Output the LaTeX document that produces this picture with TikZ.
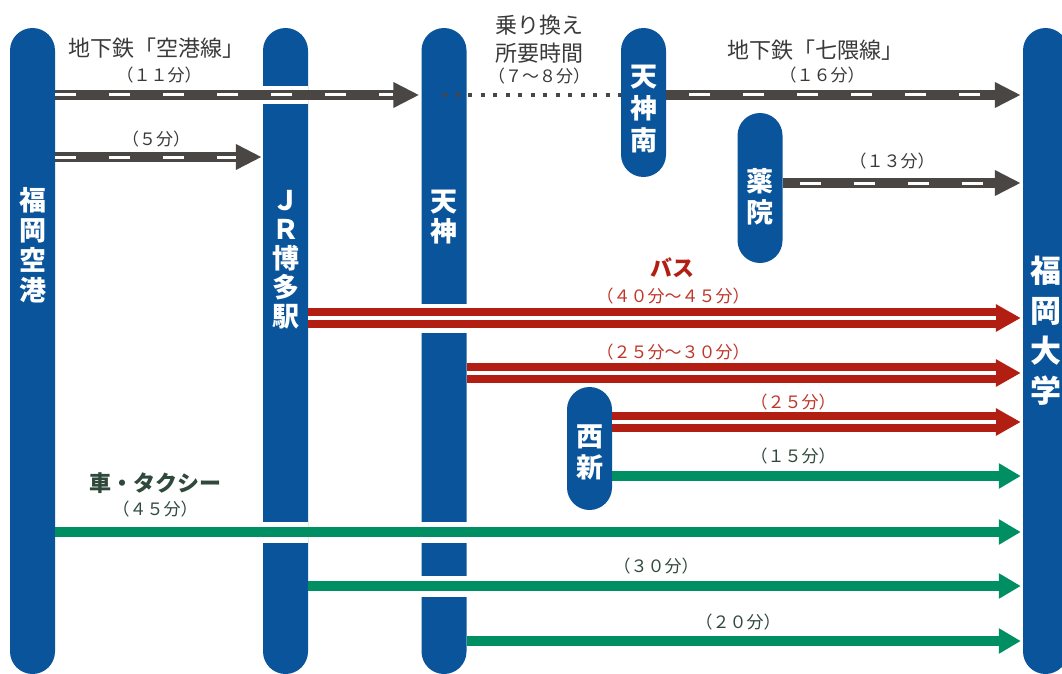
\documentclass[tikz,border=0pt]{standalone}
\usepackage{fontspec}
\setmainfont{Noto Sans CJK JP}
\usetikzlibrary{arrows.meta,calc}
\definecolor{pblue}{HTML}{0A549B}
\definecolor{agray}{HTML}{4A4643}
\definecolor{bred}{HTML}{B21E12}
\definecolor{cgreen}{HTML}{008F63}
\definecolor{capgray}{HTML}{3A3A3A}
\definecolor{capred}{HTML}{C0352A}
\definecolor{capgreen}{HTML}{2F4A3C}
\begin{document}
\begin{tikzpicture}[x=1pt,y=-1pt,
  pillar/.style={fill=pblue, rounded corners=22.5pt, minimum width=45pt, inner sep=0pt, draw=none},
  ptext/.style={text=white, align=center, inner sep=0pt, font=\bfseries\fontsize{27}{30}\selectfont},
  captxt/.style={inner sep=0pt, font=\fontsize{22}{26}\selectfont},
  durtxt/.style={inner sep=0pt, font=\fontsize{17}{20}\selectfont},
  gaphalo/.style={draw=white, line width=#1},
  grayarr/.style={draw=agray, line width=10pt, -{Triangle[length=26pt,width=24pt]}},
  wdash/.style={draw=white, line width=3pt, dash pattern=on 21pt off 33pt, dash phase=#1},
  dotl/.style={draw=agray, line width=4pt, dash pattern=on 4pt off 8.5pt},
  busarr/.style={draw=bred, line width=20pt, -{Triangle[length=25pt,width=26pt]}},
  busmid/.style={draw=white, line width=4pt},
  grnarr/.style={draw=cgreen, line width=10pt, -{Triangle[length=22pt,width=24pt]}}
]
\useasboundingbox[fill=white] (0,0) rectangle (1062,674);

% pillars
\node[pillar, minimum height=646pt] (air) at (32.5,351) {};
\node[pillar, minimum height=646pt] (jr) at (285.5,351) {};
\node[pillar, minimum height=646pt] (ten) at (444,351) {};
\node[pillar, minimum height=149pt] (tns) at (643.5,102.5) {};
\node[pillar, minimum height=150pt] (yak) at (760,188) {};
\node[pillar, minimum height=123pt] (nis) at (589.5,448.5) {};
\node[pillar, minimum height=646pt] (fu) at (1045.5,351) {};

% pillar texts
\node[ptext] (airT) at (32.5,245) {福\\岡\\空\\港};
\node[ptext, font=\bfseries\fontsize{27}{29}\selectfont] (jrT) at (285.5,259.5) {Ｊ\\Ｒ\\博\\多\\駅};
\node[ptext] (tenT) at (444,217) {天\\神};
\node[ptext, font=\bfseries\fontsize{27}{32}\selectfont] (tnsT) at (643.5,109) {天\\神\\南};
\node[ptext, font=\bfseries\fontsize{27}{31}\selectfont] (yakT) at (760,196.5) {薬\\院};
\node[ptext, font=\bfseries\fontsize{27}{31}\selectfont] (nisT) at (589.5,452.5) {西\\新};
\node[ptext, font=\bfseries\fontsize{31}{40}\selectfont] (fuT) at (1045.5,331) {福\\岡\\大\\学};

% rows
\coordinate (yA) at (0,95);
\coordinate (yB) at (0,157);
\coordinate (yC) at (0,183);
\coordinate (yD) at (0,318);
\coordinate (yE) at (0,373);
\coordinate (yF) at (0,422);
\coordinate (yG) at (0,476);
\coordinate (yH) at (0,532);
\coordinate (yI) at (0,586);
\coordinate (yJ) at (0,641);

% white gaps where lines cross pillars
\draw[gaphalo=18pt] (jr.west|-yA) -- (jr.east|-yA);
\draw[gaphalo=29pt] (ten.west|-yD) -- (ten.east|-yD);
\draw[gaphalo=21pt] (jr.west|-yH) -- (jr.east|-yH);
\draw[gaphalo=21pt] (ten.west|-yH) -- (ten.east|-yH);
\draw[gaphalo=21pt] (ten.west|-yI) -- (ten.east|-yI);

% subway
\draw[grayarr] (air.east|-yA) -- ($(ten.west|-yA)+(-2,0)$);
\draw[wdash=0pt] (air.east|-yA) -- ($(ten.west|-yA)+(-28,0)$);
\draw[dotl] ($(ten.center|-yA)+(-1,0)$) -- (tns.west|-yA);
\draw[grayarr] (tns.east|-yA) -- ($(fu.west|-yA)+(-2,0)$);
\draw[wdash=31pt] (tns.east|-yA) -- ($(fu.west|-yA)+(-30,0)$);
\draw[grayarr] (air.east|-yB) -- ($(jr.west|-yB)+(-1,0)$);
\draw[wdash=0pt] (air.east|-yB) -- ($(jr.west|-yB)+(-27,0)$);
\draw[grayarr] (yak.east|-yC) -- ($(fu.west|-yC)+(-2,0)$);
\draw[wdash=37pt] (yak.east|-yC) -- ($(fu.west|-yC)+(-30,0)$);

% bus
\draw[busarr] (jr.east|-yD) -- ($(fu.west|-yD)+(-2,0)$);
\draw[busmid] (jr.east|-yD) -- ($(fu.west|-yD)+(-27,0)$);
\draw[busarr] (ten.east|-yE) -- ($(fu.west|-yE)+(-2,0)$);
\draw[busmid] (ten.east|-yE) -- ($(fu.west|-yE)+(-27,0)$);
\draw[busarr] (nis.east|-yF) -- ($(fu.west|-yF)+(-2,0)$);
\draw[busmid] (nis.east|-yF) -- ($(fu.west|-yF)+(-27,0)$);

% car / taxi
\draw[grnarr] (nis.east|-yG) -- ($(fu.west|-yG)+(-2,0)$);
\draw[grnarr] (air.east|-yH) -- ($(fu.west|-yH)+(-2,0)$);
\draw[grnarr] (jr.east|-yI) -- ($(fu.west|-yI)+(-2,0)$);
\draw[grnarr] (ten.east|-yJ) -- ($(fu.west|-yJ)+(-2,0)$);

% labels
\node[captxt, text=capgray] (l1) at (156,48) {地下鉄「空港線」};
\node[durtxt, text=capgray] (l2) at (159,75) {（１１分）};
\node[durtxt, text=capgray] (l3) at (156,139) {（５分）};
\node[captxt, text=capgray] (l4) at (539,25) {乗り換え};
\node[captxt, text=capgray] (l5) at (539,53) {所要時間};
\node[durtxt, text=capgray] (l6) at (539,76) {（７～８分）};
\node[captxt, text=capgray] (l7) at (815,50) {地下鉄「七隈線」};
\node[durtxt, text=capgray] (l8) at (822,75) {（１６分）};
\node[durtxt, text=capgray] (l9) at (892,161) {（１３分）};
\node[captxt, text=bred, font=\bfseries\fontsize{22}{26}\selectfont] (l10) at (672,268) {バス};
\node[durtxt, text=capred] (l11) at (673,296) {（４０分～４５分）};
\node[durtxt, text=capred] (l12) at (673,352) {（２５分～３０分）};
\node[durtxt, text=capred] (l13) at (793,402) {（２５分）};
\node[durtxt, text=capgreen] (l14) at (793,456) {（１５分）};
\node[captxt, text=capgreen, font=\bfseries\fontsize{22}{26}\selectfont] (l15) at (155,483) {車・タクシー};
\node[durtxt, text=capgreen] (l16) at (155,509) {（４５分）};
\node[durtxt, text=capgreen] (l17) at (656,566) {（３０分）};
\node[durtxt, text=capgreen] (l18) at (738,622) {（２０分）};
\end{tikzpicture}
\end{document}
